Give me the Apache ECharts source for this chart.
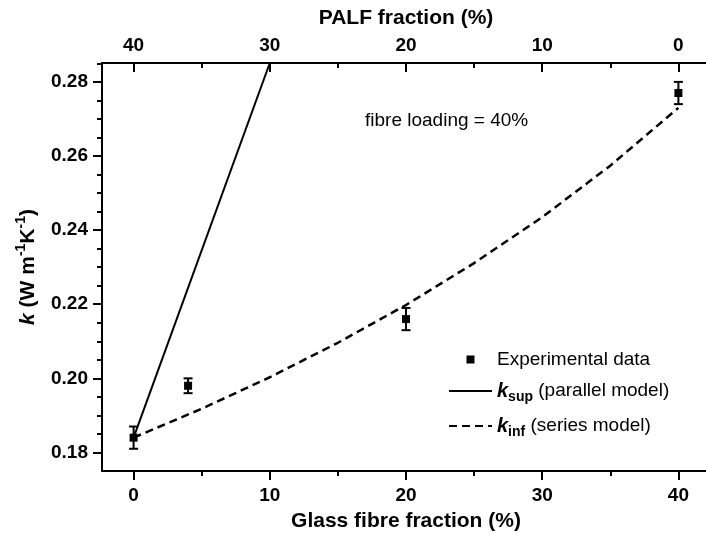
<!DOCTYPE html>
<html>
<head>
<meta charset="utf-8">
<script src="https://cdn.jsdelivr.net/npm/echarts@6/dist/echarts.min.js"></script>
<style>
html,body{margin:0;padding:0;background:#fff;}
#chart{width:706px;height:538px;}
</style>
</head>
<body>
<div id="chart"></div>
<script>
// ---- data ----
const glassTicks = [0, 10, 20, 30, 40];
const palfTickLabels = ['40', '30', '20', '10', '0'];
const kTicks = [0.18, 0.20, 0.22, 0.24, 0.26, 0.28];

const expX = [0, 4, 20, 40];
const expY = [0.184, 0.198, 0.216, 0.277];
const expErr = [0.003, 0.002, 0.003, 0.003];

const supX = [0, 10];
const supY = [0.184, 0.2851];

const infX = [0, 5, 10, 15, 20, 25, 30, 35, 40];
const infY = [0.1840, 0.1918, 0.2003, 0.2096, 0.2198, 0.2311, 0.2435, 0.2574, 0.2730];

const annotationText = 'fibre loading = 40%';

// ---- chart ----
const FF = '"Liberation Sans", Arial, Helvetica, sans-serif';
const chart = echarts.init(document.getElementById('chart'), null, {renderer: 'canvas'});

const pairs = (xs, ys) => xs.map((x, i) => [x, ys[i]]);
const errData = expX.map((x, i) => [x, expY[i] - expErr[i], expY[i] + expErr[i]]);

const axisLine = {show: true, onZero: false, lineStyle: {color: '#000', width: 2}};
const tickLabel = {color: '#000', fontFamily: FF, fontWeight: 'bold', fontSize: 19};

// legend icon: small centred square inside the 43x9 icon box
const squareIcon = 'path://M0,0M43,9M17.5,0.5L25.5,0.5L25.5,8.5L17.5,8.5Z';

const option = {
  backgroundColor: '#fff',
  animation: false,
  textStyle: {fontFamily: FF},
  grid: {left: 102, right: -4, top: 63, bottom: 67, containLabel: false, outerBoundsMode: 'none'},
  xAxis: [
    {
      type: 'value', position: 'bottom', min: -2.32, max: 42.32,
      minInterval: 10, maxInterval: 10,
      axisLine: axisLine,
      axisTick: {show: true, inside: false, length: 9, customValues: glassTicks, lineStyle: {color: '#000', width: 2}},
      minorTick: {show: true, splitNumber: 2, length: 5, lineStyle: {color: '#000', width: 2}},
      axisLabel: Object.assign({margin: 15, customValues: glassTicks, formatter: v => String(v)}, tickLabel),
      splitLine: {show: false}, minorSplitLine: {show: false},
      name: 'Glass fibre fraction (%)', nameLocation: 'middle', nameGap: 40,
      nameTextStyle: {color: '#000', fontFamily: FF, fontWeight: 'bold', fontSize: 21}
    },
    {
      type: 'value', position: 'top', min: -2.32, max: 42.32,
      minInterval: 10, maxInterval: 10,
      axisLine: axisLine,
      axisTick: {show: true, inside: true, length: 9, customValues: glassTicks, lineStyle: {color: '#000', width: 2}},
      minorTick: {show: true, splitNumber: 2, length: 5, lineStyle: {color: '#000', width: 2}},
      axisLabel: Object.assign({margin: 8, customValues: glassTicks,
        formatter: v => palfTickLabels[glassTicks.indexOf(Math.round(v))]}, tickLabel),
      splitLine: {show: false}, minorSplitLine: {show: false},
      name: 'PALF fraction (%)', nameLocation: 'middle', nameGap: 34,
      nameTextStyle: {color: '#000', fontFamily: FF, fontWeight: 'bold', fontSize: 21}
    }
  ],
  yAxis: {
    type: 'value', min: 0.175, max: 0.2851,
    minInterval: 0.02, maxInterval: 0.02,
    axisLine: axisLine,
    axisTick: {show: true, inside: false, length: 9, customValues: kTicks, lineStyle: {color: '#000', width: 2}},
    minorTick: {show: true, splitNumber: 4, length: 5, lineStyle: {color: '#000', width: 2}},
    axisLabel: Object.assign({margin: 14, customValues: kTicks, formatter: v => v.toFixed(2)}, tickLabel),
    splitLine: {show: false}, minorSplitLine: {show: false},
    name: '{k|k}{b| (W m}{sup|-1}{b|K}{sup|-1}{b|)}',
    nameLocation: 'middle', nameGap: 60,
    nameTextStyle: {
      color: '#000', fontFamily: FF, fontWeight: 'bold', fontSize: 21,
      rich: {
        k: {fontFamily: FF, fontWeight: 'bold', fontStyle: 'italic', fontSize: 21, color: '#000', lineHeight: 28},
        b: {fontFamily: FF, fontWeight: 'bold', fontSize: 21, color: '#000', lineHeight: 28},
        sup: {fontFamily: FF, fontWeight: 'bold', fontSize: 14, color: '#000', lineHeight: 14, verticalAlign: 'top'}
      }
    }
  },
  legend: {
    orient: 'vertical', left: 443, top: 345,
    itemWidth: 43, itemHeight: 9, itemGap: 12,
    data: [
      {name: 'Experimental data', icon: squareIcon},
      {name: 'ksup', itemStyle: {opacity: 0}},
      {name: 'kinf', itemStyle: {opacity: 0}}
    ],
    formatter: function (name) {
      if (name === 'ksup') return '{k|k}{sub|sup}{t| (parallel model)}';
      if (name === 'kinf') return '{k|k}{sub|inf}{t| (series model)}';
      return '{t|' + name + '}';
    },
    textStyle: {
      color: '#000', fontFamily: FF, fontSize: 19,
      rich: {
        t: {fontFamily: FF, fontSize: 19, color: '#000', lineHeight: 26},
        k: {fontFamily: FF, fontSize: 20, fontWeight: 'bold', fontStyle: 'italic', color: '#000', lineHeight: 26},
        sub: {fontFamily: FF, fontSize: 14, fontWeight: 'bold', color: '#000', lineHeight: 14, verticalAlign: 'bottom'}
      }
    }
  },
  graphic: [{
    type: 'text', left: 365, top: 111, silent: true,
    style: {text: annotationText, fontFamily: FF, fontSize: 19, fill: '#000'}
  }],
  series: [
    {
      name: 'ksup', type: 'line', xAxisIndex: 0, yAxisIndex: 0,
      data: pairs(supX, supY), symbol: 'none', clip: true,
      lineStyle: {color: '#000', width: 2, type: 'solid'}, itemStyle: {color: '#000'}, z: 3
    },
    {
      name: 'kinf', type: 'line', xAxisIndex: 0, yAxisIndex: 0,
      data: pairs(infX, infY), symbol: 'none', clip: true,
      lineStyle: {color: '#000', width: 2.5, type: [8, 5]}, itemStyle: {color: '#000'}, z: 3
    },
    {
      name: 'errors', type: 'custom', xAxisIndex: 0, yAxisIndex: 0,
      data: errData, encode: {x: 0, y: [1, 2]}, z: 4, silent: true,
      renderItem: function (params, api) {
        const x = api.value(0);
        const lo = api.coord([x, api.value(1)]);
        const hi = api.coord([x, api.value(2)]);
        const hw = 4.5;
        const st = {stroke: '#000', lineWidth: 2};
        return {type: 'group', children: [
          {type: 'line', shape: {x1: lo[0], y1: lo[1], x2: hi[0], y2: hi[1]}, style: st},
          {type: 'line', shape: {x1: lo[0] - hw, y1: lo[1], x2: lo[0] + hw, y2: lo[1]}, style: st},
          {type: 'line', shape: {x1: hi[0] - hw, y1: hi[1], x2: hi[0] + hw, y2: hi[1]}, style: st}
        ]};
      }
    },
    {
      name: 'Experimental data', type: 'scatter', xAxisIndex: 0, yAxisIndex: 0,
      data: pairs(expX, expY), symbol: 'rect', symbolSize: 8,
      itemStyle: {color: '#000', opacity: 1}, z: 5
    }
  ]
};
chart.setOption(option);
</script>
</body>
</html>
